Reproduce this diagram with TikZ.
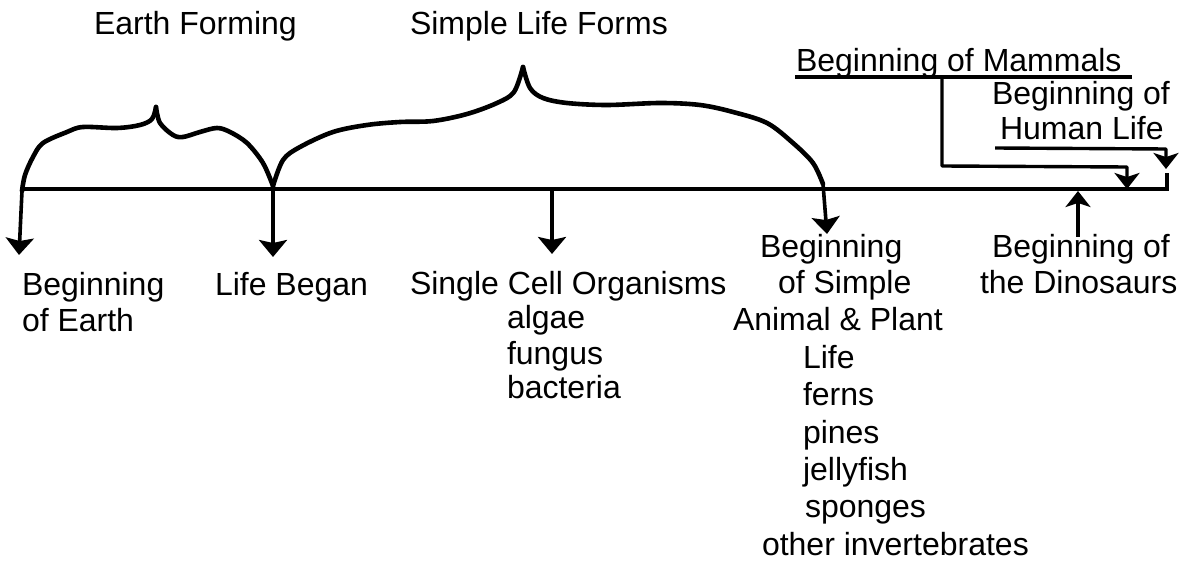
\documentclass[tikz,border=0pt]{standalone}
\usepackage{fontspec}
\setmainfont{Liberation Sans}
\usetikzlibrary{arrows.meta}
\begin{document}
\begin{tikzpicture}[x=1pt,y=-1pt,
  lbl/.style={anchor=base west,inner sep=0pt,outer sep=0pt,font=\fontsize{32}{37}\selectfont},
  brace/.style={line width=4.6pt,line cap=round,line join=round},
  tl/.style={line width=3.4pt},
  conn/.style={line width=3.4pt,line join=round},
  bigarr/.style={line width=3.6pt,-{Stealth[width=28pt,length=17pt,inset=3pt]}},
  smallarr/.style={line width=3.4pt,line join=round,-{Stealth[width=25pt,length=16pt,inset=4pt]}},
]
\useasboundingbox (0,0) rectangle (1181,561);

% coordinates
\coordinate (tlS) at (20,189);
\coordinate (tlE) at (1167,189);
\coordinate (tlEnd) at (1167,173);
\coordinate (bA) at (22,191);
\coordinate (bB) at (273,186);
\coordinate (bC) at (823,184);

% labels
\node[lbl] (earthF) at (94,35) {Earth Forming};
\node[lbl] (simpleF) at (410,35) {Simple Life Forms};
\node[lbl] (mammals) at (796,72) {Beginning of Mammals};
\node[lbl] (human1) at (992,105) {Beginning of};
\node[lbl] (human2) at (1000,140) {Human Life};

\node[lbl] (earth1) at (22,296) {Beginning};
\node[lbl] (earth2) at (22,332) {of Earth};
\node[lbl] (life) at (215,296) {Life Began};
\node[lbl] (single) at (410,295) {Single Cell Organisms};
\node[lbl] (algae) at (507,329) {algae};
\node[lbl] (fungus) at (507,364) {fungus};
\node[lbl] (bacteria) at (507,399) {bacteria};

\node[lbl] (sa1) at (760,258) {Beginning};
\node[lbl] (sa2) at (778,294) {of Simple};
\node[lbl] (sa3) at (733,331) {Animal \& Plant};
\node[lbl] (sa4) at (803,368) {Life};
\node[lbl] (sa5) at (803,405) {ferns};
\node[lbl] (sa6) at (803,443) {pines};
\node[lbl] (sa7) at (803,480) {jellyfish};
\node[lbl] (sa8) at (805,517) {sponges};
\node[lbl] (sa9) at (762,555) {other invertebrates};

\node[lbl] (dino1) at (992,258) {Beginning of};
\node[lbl] (dino2) at (980,294) {the Dinosaurs};

% timeline
\draw[tl] (tlS) -- (tlE) -- (tlEnd);

% braces
\draw[brace] plot[smooth,tension=0.55] coordinates {(22,191) (25,175) (33,157) (43,143) (67,132) (83,127) (117,128) (140,125) (152,119) (156,107)};
\draw[brace] plot[smooth,tension=0.55] coordinates {(156,107) (160,123) (173,135) (183,137) (200,132) (217,128) (230,132) (247,143) (263,163) (273,186)};
\draw[brace] plot[smooth,tension=0.55] coordinates {(273,186) (283,160) (300,147) (333,132) (367,125) (400,122) (433,121) (467,114) (497,103) (514,92) (523,67)};
\draw[brace] plot[smooth,tension=0.55] coordinates {(523,67) (530,88) (543,98) (567,103) (607,105) (660,103) (700,105) (733,112) (767,123) (793,143) (813,163) (823,184)};

% arrows down to labels
\coordinate (a1) at (19,255);
\coordinate (a2) at (273,257);
\coordinate (a3s) at (552,189);
\coordinate (a3) at (552,254);
\coordinate (a4) at (827,234);
\draw[bigarr] (bA) -- (a1);
\draw[bigarr] (bB) -- (a2);
\draw[bigarr] (a3s) -- (a3);
\draw[bigarr] (bC) -- (a4);

% dinosaurs arrow
\coordinate (dS) at (1078,237);
\coordinate (dT) at (1078,191);
\draw[smallarr] (dS) -- (dT);

% mammals
\coordinate (mU1) at (795,77);
\coordinate (mU2) at (1132,77);
\coordinate (mD) at (942,77);
\coordinate (mC) at (942,166);
\coordinate (mR) at (1127,167);
\coordinate (mT) at (1127,189);
\draw[conn] (mU1) -- (mU2);
\draw[smallarr] (mD) -- (mC) -- (mR) -- (mT);

% human life
\coordinate (hU1) at (995,148);
\coordinate (hU2) at (1166,149);
\coordinate (hT) at (1166,169);
\draw[smallarr] (hU1) -- (hU2) -- (hT);
\end{tikzpicture}
\end{document}
